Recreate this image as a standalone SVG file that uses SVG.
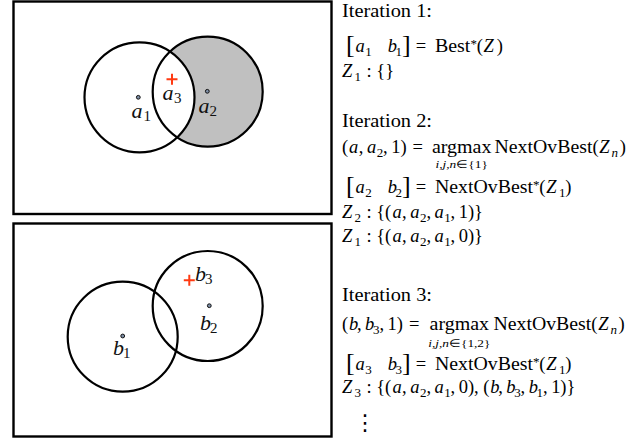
<svg xmlns="http://www.w3.org/2000/svg" width="638" height="440" viewBox="0 0 638 440">
<defs>
<style>
.frame{fill:none;stroke:#000;stroke-width:2.4}
.circ{fill:none;stroke:#000;stroke-width:2.2}
.dot{fill:#7d8ea6;stroke:#111;stroke-width:1}
.plus{stroke:#ff3a12;stroke-width:2;fill:none}
.lab{font-family:'Liberation Serif','Times New Roman',serif;font-style:italic;font-size:22px;fill:#111}
.labs{font-style:normal;font-size:15px}
.tx{font-family:'Liberation Serif','Times New Roman',serif;font-size:18.5px;fill:#000}
.i{font-style:italic}
.s{font-size:13px}
.ss{font-size:11px}
.bk{font-size:26px}
.vd{font-family:'DejaVu Sans',sans-serif;font-size:22px;fill:#000}
</style>
</defs>
<rect width="638" height="440" fill="#fff"/>

<g id="panel-top">
<rect class="frame" x="13.5" y="1.5" width="318" height="212.5"/>
<g id="circle-a2">
<circle cx="207.7" cy="91.7" r="55" fill="#c0c0c0" stroke="none"/>
</g>
<g id="circle-a1">
<circle cx="139.5" cy="97.3" r="55" fill="#fff" stroke="none"/>
<circle class="circ" cx="139.5" cy="97.3" r="55"/>
<circle class="circ" cx="207.7" cy="91.7" r="55"/>
<circle class="dot" cx="138.3" cy="97.3" r="1.9"/>
<circle class="dot" cx="207.3" cy="91.3" r="1.9"/>
</g>
<g id="marker-a3">
<path class="plus" d="M166.5 79.3h11M172 73.8v11"/>
</g>
<g id="labels-top">
<text class="lab" x="131.5" y="118">a<tspan class="labs" x="143.5" y="121">1</tspan></text>
<text class="lab" x="162.5" y="100">a<tspan class="labs" x="174" y="103">3</tspan></text>
<text class="lab" x="198.5" y="113">a<tspan class="labs" x="209.5" y="116">2</tspan></text>
</g>
</g>

<g id="panel-bottom">
<rect class="frame" x="13.5" y="223.5" width="318" height="213"/>
<g id="circle-b1">
<circle class="circ" cx="122.7" cy="336.7" r="55"/>
<circle class="dot" cx="122.7" cy="336" r="1.9"/>
</g>
<g id="circle-b2">
<circle class="circ" cx="207.7" cy="306" r="55"/>
<circle class="dot" cx="209.3" cy="305.7" r="1.9"/>
</g>
<g id="marker-b3">
<path class="plus" d="M183.8 280.3h11M189.3 274.8v11"/>
</g>
<g id="labels-bottom">
<text class="lab" x="195" y="281">b<tspan class="labs" x="205" y="284">3</tspan></text>
<text class="lab" x="200" y="330">b<tspan class="labs" x="210" y="333">2</tspan></text>
<text class="lab" x="113" y="355">b<tspan class="labs" x="123" y="358">1</tspan></text>
</g>
</g>

<g id="connectors"></g>

<g id="text-iter1">
<text class="tx" x="342" y="17" textLength="90" lengthAdjust="spacingAndGlyphs">Iteration 1:</text>
<text class="tx"><tspan class="bk" x="346" y="52.5">[</tspan><tspan class="i" x="355.6" y="52">a</tspan><tspan class="s" x="365.3" y="55.5">1</tspan><tspan class="i" x="387.7" y="52">b</tspan><tspan class="s" x="395.6" y="55.5">1</tspan><tspan class="bk" x="402" y="52.5">]</tspan><tspan x="415.7" y="52">=</tspan><tspan x="435" y="52" textLength="35.4" lengthAdjust="spacingAndGlyphs">Best</tspan><tspan class="s" x="470.6" y="48">*</tspan><tspan x="476.8" y="52">(</tspan><tspan class="i" x="483.4" y="52">Z</tspan><tspan x="496.8" y="52">)</tspan></text>
<text class="tx"><tspan class="i" x="342" y="77">Z</tspan><tspan class="s" x="354.5" y="80.5">1</tspan><tspan x="366.5" y="77">:</tspan><tspan x="376.2" y="77">{</tspan><tspan x="385.3" y="77">}</tspan></text>
</g>

<g id="text-iter2">
<text class="tx" x="342" y="127" textLength="90" lengthAdjust="spacingAndGlyphs">Iteration 2:</text>
<text class="tx"><tspan x="342" y="153">(</tspan><tspan class="i" x="349.1" y="153">a</tspan><tspan x="358.8" y="153">,</tspan><tspan class="i" x="367" y="153">a</tspan><tspan class="s" x="376.7" y="156.5">2</tspan><tspan x="383.1" y="153">,</tspan><tspan x="391.2" y="153">1</tspan><tspan x="400.4" y="153">)</tspan><tspan x="412.6" y="153">=</tspan><tspan x="431.9" y="153" textLength="59.5" lengthAdjust="spacingAndGlyphs">argmax</tspan><tspan x="494.5" y="153" textLength="97.9" lengthAdjust="spacingAndGlyphs">NextOvBest</tspan><tspan x="592.4" y="153">(</tspan><tspan class="i" x="599.3" y="153">Z</tspan><tspan class="s i" x="611.5" y="156.5">n</tspan><tspan x="619.7" y="153">)</tspan></text>
<text class="tx ss" x="435.5" y="168" textLength="52.3" lengthAdjust="spacingAndGlyphs"><tspan class="i">i,j,n</tspan>∈{1}</text>
<text class="tx"><tspan class="bk" x="346" y="193.5">[</tspan><tspan class="i" x="355.6" y="193">a</tspan><tspan class="s" x="365.3" y="196.5">2</tspan><tspan class="i" x="387.7" y="193">b</tspan><tspan class="s" x="395.6" y="196.5">2</tspan><tspan class="bk" x="402" y="193.5">]</tspan><tspan x="415.7" y="193">=</tspan><tspan x="435" y="193" textLength="97.9" lengthAdjust="spacingAndGlyphs">NextOvBest</tspan><tspan class="s" x="533.1" y="189">*</tspan><tspan x="539.3" y="193">(</tspan><tspan class="i" x="546.2" y="193">Z</tspan><tspan class="s" x="558.9" y="196.5">1</tspan><tspan x="565.3" y="193">)</tspan></text>
<text class="tx"><tspan class="i" x="342" y="218">Z</tspan><tspan class="s" x="354.5" y="221.5">2</tspan><tspan x="366.5" y="218">:</tspan><tspan x="376.2" y="218">{(</tspan><tspan class="i" x="392.4" y="218">a</tspan><tspan x="402.1" y="218">,</tspan><tspan class="i" x="410.3" y="218">a</tspan><tspan class="s" x="420" y="221.5">2</tspan><tspan x="426.4" y="218">,</tspan><tspan class="i" x="434.5" y="218">a</tspan><tspan class="s" x="444.2" y="221.5">1</tspan><tspan x="450.6" y="218">,</tspan><tspan x="458.8" y="218">1</tspan><tspan x="467.9" y="218">)}</tspan></text>
<text class="tx"><tspan class="i" x="342" y="242">Z</tspan><tspan class="s" x="354.5" y="245.5">1</tspan><tspan x="366.5" y="242">:</tspan><tspan x="376.2" y="242">{(</tspan><tspan class="i" x="392.4" y="242">a</tspan><tspan x="402.1" y="242">,</tspan><tspan class="i" x="410.3" y="242">a</tspan><tspan class="s" x="420" y="245.5">2</tspan><tspan x="426.4" y="242">,</tspan><tspan class="i" x="434.5" y="242">a</tspan><tspan class="s" x="444.2" y="245.5">1</tspan><tspan x="450.6" y="242">,</tspan><tspan x="458.8" y="242">0</tspan><tspan x="467.9" y="242">)}</tspan></text>
</g>

<g id="text-iter3">
<text class="tx" x="342" y="301" textLength="90" lengthAdjust="spacingAndGlyphs">Iteration 3:</text>
<text class="tx"><tspan x="342" y="330">(</tspan><tspan class="i" x="349.1" y="330">b</tspan><tspan x="357" y="330">,</tspan><tspan class="i" x="365.1" y="330">b</tspan><tspan class="s" x="373" y="333.5">3</tspan><tspan x="379.4" y="330">,</tspan><tspan x="387.5" y="330">1</tspan><tspan x="396.7" y="330">)</tspan><tspan x="408.9" y="330">=</tspan><tspan x="429.6" y="330" textLength="59.5" lengthAdjust="spacingAndGlyphs">argmax</tspan><tspan x="493.4" y="330" textLength="97.9" lengthAdjust="spacingAndGlyphs">NextOvBest</tspan><tspan x="591.3" y="330">(</tspan><tspan class="i" x="598.2" y="330">Z</tspan><tspan class="s i" x="610.4" y="333.5">n</tspan><tspan x="618.6" y="330">)</tspan></text>
<text class="tx ss" x="428.2" y="347" textLength="62.2" lengthAdjust="spacingAndGlyphs"><tspan class="i">i,j,n</tspan>∈{1,2}</text>
<text class="tx"><tspan class="bk" x="346" y="370.5">[</tspan><tspan class="i" x="355.6" y="370">a</tspan><tspan class="s" x="365.3" y="373.5">3</tspan><tspan class="i" x="387.7" y="370">b</tspan><tspan class="s" x="395.6" y="373.5">3</tspan><tspan class="bk" x="402" y="370.5">]</tspan><tspan x="415.7" y="370">=</tspan><tspan x="435" y="370" textLength="97.9" lengthAdjust="spacingAndGlyphs">NextOvBest</tspan><tspan class="s" x="533.1" y="366">*</tspan><tspan x="539.3" y="370">(</tspan><tspan class="i" x="546.2" y="370">Z</tspan><tspan class="s" x="558.9" y="373.5">1</tspan><tspan x="565.3" y="370">)</tspan></text>
<text class="tx"><tspan class="i" x="342" y="393">Z</tspan><tspan class="s" x="354.5" y="396.5">3</tspan><tspan x="366.5" y="393">:</tspan><tspan x="376.2" y="393">{(</tspan><tspan class="i" x="392.4" y="393">a</tspan><tspan x="402.1" y="393">,</tspan><tspan class="i" x="410.3" y="393">a</tspan><tspan class="s" x="420" y="396.5">2</tspan><tspan x="426.4" y="393">,</tspan><tspan class="i" x="434.5" y="393">a</tspan><tspan class="s" x="444.2" y="396.5">1</tspan><tspan x="450.6" y="393">,</tspan><tspan x="458.8" y="393">0</tspan><tspan x="467.9" y="393">),</tspan><tspan x="483.2" y="393">(</tspan><tspan class="i" x="490.3" y="393">b</tspan><tspan x="498.2" y="393">,</tspan><tspan class="i" x="506.3" y="393">b</tspan><tspan class="s" x="514.2" y="396.5">3</tspan><tspan x="520.6" y="393">,</tspan><tspan class="i" x="528.7" y="393">b</tspan><tspan class="s" x="536.6" y="396.5">1</tspan><tspan x="543" y="393">,</tspan><tspan x="551.2" y="393">1</tspan><tspan x="560.3" y="393">)}</tspan></text>
<text class="vd" x="354" y="430">⋮</text>
</g>
</svg>
